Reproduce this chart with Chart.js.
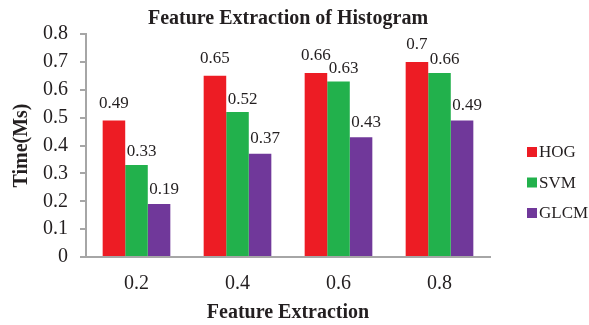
<!DOCTYPE html>
<html>
<head>
<meta charset="utf-8">
<script src="https://cdn.jsdelivr.net/npm/chart.js@4.4.1/dist/chart.umd.min.js"></script>
<style>
  html, body { margin: 0; padding: 0; background: #fff; }
  #wrap { width: 589px; height: 325px; }
</style>
</head>
<body>
<div id="wrap"><canvas id="chart" width="589" height="325"></canvas></div>
<script>
/* ── data ── */
const categories = ['0.2', '0.4', '0.6', '0.8'];
const hogValues  = [0.49, 0.65, 0.66, 0.7];
const svmValues  = [0.33, 0.52, 0.63, 0.66];
const glcmValues = [0.19, 0.37, 0.43, 0.49];
const seriesNames = ['HOG', 'SVM', 'GLCM'];
const yTickLabels = ['0', '0.1', '0.2', '0.3', '0.4', '0.5', '0.6', '0.7', '0.8'];

const SERIF = "'Liberation Serif', 'Times New Roman', serif";
const COLORS = ['#ED1C24', '#22B14C', '#70389A'];
const AXIS_GRAY = '#A6A6A6';
const INK = '#231F20';

// value labels above each bar (per series nudge, like the original)
const labelNudge = [{ dx: 0, gap: 17 }, { dx: 5, gap: 13 }, { dx: 5, gap: 15 }];

const valueLabels = {
    id: 'valueLabels',
    afterDatasetsDraw(chart) {
        const ctx = chart.ctx;
        ctx.save();
        ctx.font = '17px ' + SERIF;
        ctx.fillStyle = INK;
        ctx.textAlign = 'center';
        ctx.textBaseline = 'middle';
        chart.data.datasets.forEach((ds, i) => {
            const meta = chart.getDatasetMeta(i);
            const n = labelNudge[i];
            meta.data.forEach((bar, j) => {
                ctx.fillText(String(ds.data[j]), bar.x + n.dx, bar.y - n.gap);
            });
        });
        ctx.restore();
    }
};

// legend drawn to the right of the plot, small square swatches
const sideLegend = {
    id: 'sideLegend',
    afterDraw(chart) {
        const ctx = chart.ctx;
        const x0 = chart.chartArea.right + 37;
        const yStart = 152, step = 30.5;
        ctx.save();
        ctx.font = '17px ' + SERIF;
        ctx.textAlign = 'left';
        ctx.textBaseline = 'middle';
        chart.data.datasets.forEach((ds, i) => {
            const y = yStart + i * step;
            ctx.fillStyle = ds.backgroundColor;
            ctx.fillRect(x0, y - 5, 10, 10);
            ctx.fillStyle = INK;
            ctx.fillText(ds.label, x0 + 12, y + 1);
        });
        ctx.restore();
    }
};

new Chart(document.getElementById('chart'), {
    type: 'bar',
    data: {
        labels: categories,
        datasets: [
            { label: seriesNames[0], data: hogValues,  backgroundColor: COLORS[0] },
            { label: seriesNames[1], data: svmValues,  backgroundColor: COLORS[1] },
            { label: seriesNames[2], data: glcmValues, backgroundColor: COLORS[2] }
        ]
    },
    options: {
        responsive: false,
        animation: false,
        devicePixelRatio: 1,
        layout: { padding: { left: 0, right: 99, top: 0, bottom: 0 } },
        datasets: { bar: { categoryPercentage: 0.67, barPercentage: 1.0 } },
        plugins: {
            legend: { display: false },
            tooltip: { enabled: false },
            title: {
                display: true,
                fullSize: false,
                text: 'Feature Extraction of Histogram',
                color: INK,
                font: { family: SERIF, size: 20, weight: 'bold' },
                padding: { top: 7, bottom: 3 }
            }
        },
        scales: {
            x: {
                grid: { display: false },
                border: { display: true, color: AXIS_GRAY, width: 2 },
                ticks: { color: INK, font: { family: SERIF, size: 20 }, padding: 7 },
                title: {
                    display: true,
                    text: 'Feature Extraction',
                    color: INK,
                    font: { family: SERIF, size: 20, weight: 'bold' },
                    padding: { top: 0, bottom: 0 }
                },
                afterFit(scale) { scale.height = 68; }
            },
            y: {
                min: 0,
                max: 0.8,
                grid: { display: true, drawOnChartArea: false, drawTicks: true, tickLength: 6, color: AXIS_GRAY, lineWidth: 2 },
                border: { display: true, color: AXIS_GRAY, width: 2 },
                ticks: {
                    stepSize: 0.1,
                    color: INK,
                    font: { family: SERIF, size: 20 },
                    padding: 12,
                    callback: (v, i) => yTickLabels[i]
                },
                title: {
                    display: true,
                    text: 'Time(Ms)',
                    color: INK,
                    font: { family: SERIF, size: 20, weight: 'bold' },
                    padding: { top: 10, bottom: 0 }
                },
                afterFit(scale) { scale.width = 86; }
            }
        }
    },
    plugins: [valueLabels, sideLegend]
});
</script>
</body>
</html>
